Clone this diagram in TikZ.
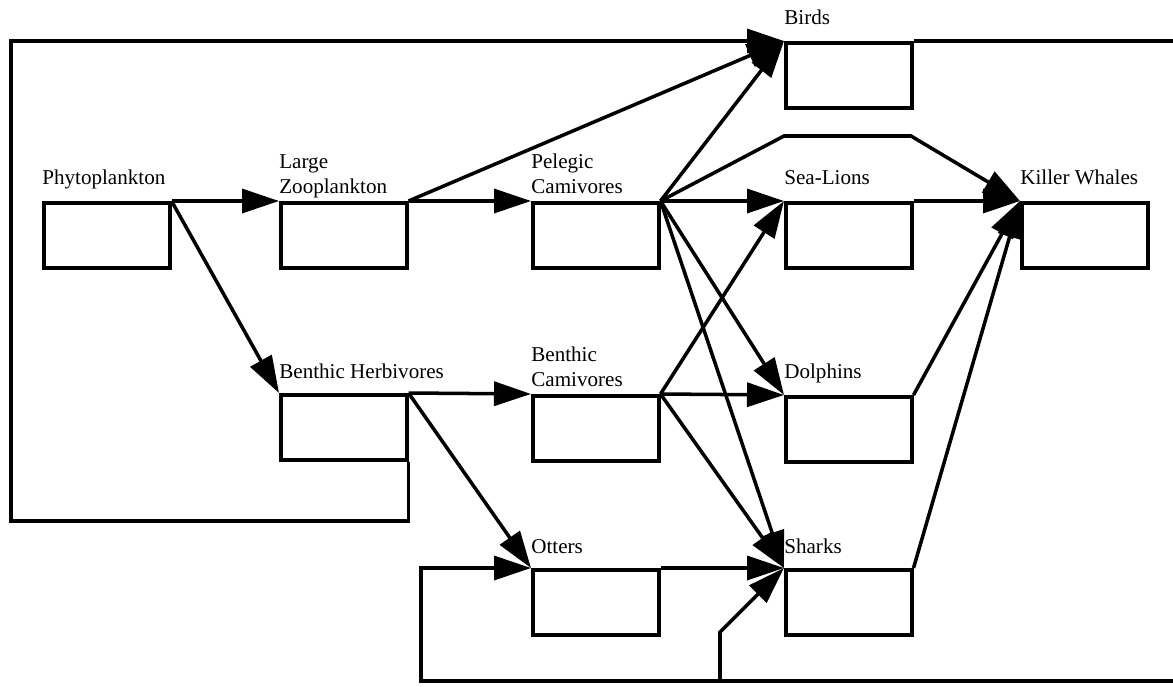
\documentclass[tikz,border=0pt]{standalone}
\usepackage{fontspec}
\setmainfont{Liberation Serif}
\usetikzlibrary{arrows.meta}

\begin{document}
\begin{tikzpicture}[
    % GLOBAL CFG
    x=0.2mm, y=-0.2mm,
    font=\fontsize{12}{14.2}\selectfont,
    >={Triangle[length=7.4mm, width=4.8mm]},
    % Styles
    stock/.style={% For the compartments
        rectangle,
        draw,
        line width=2pt,
        minimum width=25.2mm,
        minimum height=13mm,
        inner sep=0pt,
        anchor=north west,
        },
    mylabel/.style={% Names above the compartments
        anchor=base west,
        inner sep=0pt,
        align=left,
        },
    flow/.style={% Feeding links
        line width=2pt,
        },
    ]
    \useasboundingbox (0,0) rectangle (1173,686);

    % Draw the compartments
    \node [stock] (phyto) at (42,201) {};
    \node [stock] (lzoo) at (279,201) {};
    \node [stock] (pel) at (531,201) {};
    \node [stock] (birds) at (784,41) {};
    \node [stock] (sealion) at (784,201) {};
    \node [stock] (kw) at (1020,201) {};
    \node [stock] (bherb) at (279,393) {};
    \node [stock] (bcarn) at (531,394) {};
    \node [stock] (dolph) at (784,395) {};
    \node [stock] (otters) at (531,568) {};
    \node [stock] (sharks) at (784,568) {};

    % Draw the names, one per compartment
    \node [mylabel] (phytoL) at ([yshift=3.4mm]phyto.north west) {Phytoplankton};
    \node [mylabel] (lzooL) at ([yshift=1.5mm]lzoo.north west) {Large\\Zooplankton};
    \node [mylabel] (pelL) at ([yshift=1.5mm]pel.north west) {Pelegic\\Camivores};
    \node [mylabel] (birdsL) at ([yshift=3.4mm]birds.north west) {Birds};
    \node [mylabel] (sealionL) at ([yshift=3.4mm]sealion.north west) {Sea-Lions};
    \node [mylabel] (kwL) at ([yshift=3.4mm]kw.north west) {Killer Whales};
    \node [mylabel] (bherbL) at ([yshift=3mm]bherb.north west) {Benthic Herbivores};
    \node [mylabel] (bcarnL) at ([yshift=1.5mm]bcarn.north west) {Benthic\\Camivores};
    \node [mylabel] (dolphL) at ([yshift=3.3mm]dolph.north west) {Dolphins};
    \node [mylabel] (ottersL) at ([yshift=3mm]otters.north west) {Otters};
    \node [mylabel] (sharksL) at ([yshift=3mm]sharks.north west) {Sharks};

    % Corners of the outer loops
    \coordinate (frameBL) at (11,521);
    \coordinate (frameTL) at (11,41);
    \coordinate (frameTR) at (1180,41);
    \coordinate (loopR) at (1180,681);
    \coordinate (loopL) at (421,681);
    \coordinate (loopK) at (720,681);
    \coordinate (loopJ) at (720,632);
    \coordinate (kwA) at (784,136);
    \coordinate (kwB) at (911,136);

% Start connecting all.
    % Upper chain
    \draw [->, flow] (phyto.north east) -- (lzoo.north west);
    \draw [->, flow] (lzoo.north east) -- (pel.north west);
    \draw [->, flow] (lzoo.north east) -- (birds.north west);
    \draw [->, flow] (pel.north east) -- (birds.north west);
    \draw [->, flow] (pel.north east) -- (sealion.north west);
    \draw [->, flow] (pel.north east) -- (dolph.north west);
    \draw [->, flow] (pel.north east) -- (sharks.north west);
    \draw [->, flow] (pel.north east) -- (kwA) -- (kwB) -- (kw.north west);
    \draw [->, flow] (sealion.north east) -- (kw.north west);

    % Lower chain
    \draw [->, flow] (phyto.north east) -- (bherb.north west);
    \draw [->, flow] (bherb.north east) -- (bcarn.north west);
    \draw [->, flow] (bherb.north east) -- (otters.north west);
    \draw [->, flow] (bcarn.north east) -- (sealion.north west);
    \draw [->, flow] (bcarn.north east) -- (dolph.north west);
    \draw [->, flow] (bcarn.north east) -- (sharks.north west);
    \draw [->, flow] (otters.north east) -- (sharks.north west);
    \draw [->, flow] (dolph.north east) -- (kw.north west);
    \draw [->, flow] (sharks.north east) -- (kw.north west);

    % Outer loops
    \draw [->, flow] (bherb.south east) |- (frameBL) -- (frameTL) -- (birds.north west);
    \draw [flow] (birds.north east) -- (frameTR);
    \draw [->, flow] (loopR) -- (loopL) |- (otters.north west);
    \draw [->, flow] (loopK) -- (loopJ) -- (sharks.north west);

\end{tikzpicture}
\end{document}
